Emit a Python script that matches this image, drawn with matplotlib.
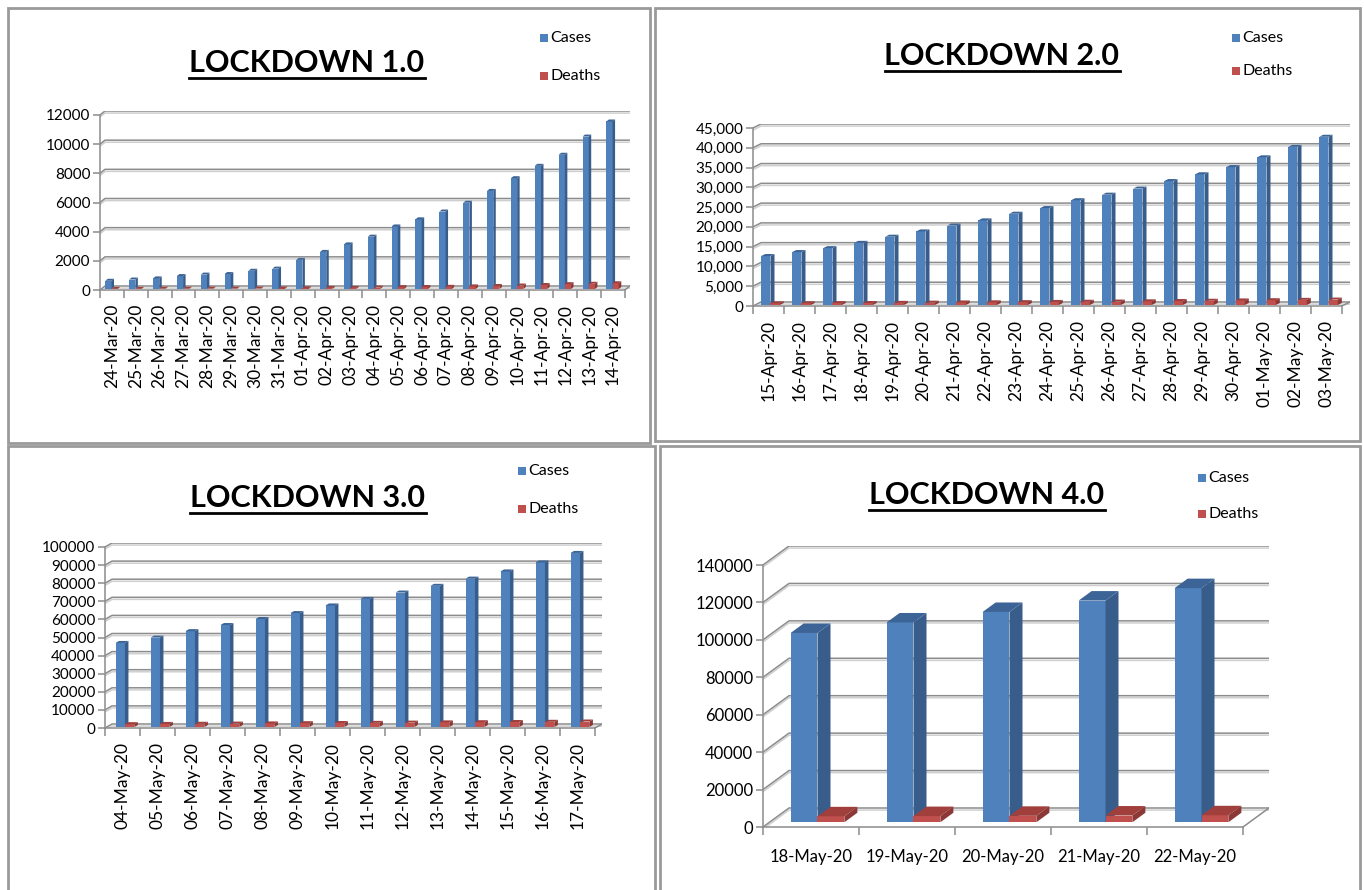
import matplotlib
matplotlib.use("Agg")
import matplotlib.pyplot as plt
from matplotlib.patches import Polygon, Rectangle
from matplotlib.lines import Line2D
from matplotlib.ticker import FuncFormatter
import matplotlib.patheffects as pe

plt.rcParams['font.family'] = ['Lato', 'DejaVu Sans']

W, H = 1364, 890

# ---- data ----
dates_1 = ["24-Mar-20", "25-Mar-20", "26-Mar-20", "27-Mar-20", "28-Mar-20", "29-Mar-20",
           "30-Mar-20", "31-Mar-20", "01-Apr-20", "02-Apr-20", "03-Apr-20", "04-Apr-20",
           "05-Apr-20", "06-Apr-20", "07-Apr-20", "08-Apr-20", "09-Apr-20", "10-Apr-20",
           "11-Apr-20", "12-Apr-20", "13-Apr-20", "14-Apr-20"]
cases_1 = [564, 650, 727, 887, 987, 1024, 1251, 1397, 1998, 2543, 3059, 3588,
           4289, 4778, 5311, 5916, 6725, 7598, 8446, 9205, 10453, 11487]
deaths_1 = [10, 12, 20, 20, 24, 27, 32, 35, 50, 72, 75, 99,
            124, 135, 149, 178, 206, 239, 273, 331, 358, 393]

dates_2 = ["15-Apr-20", "16-Apr-20", "17-Apr-20", "18-Apr-20", "19-Apr-20", "20-Apr-20",
           "21-Apr-20", "22-Apr-20", "23-Apr-20", "24-Apr-20", "25-Apr-20", "26-Apr-20",
           "27-Apr-20", "28-Apr-20", "29-Apr-20", "30-Apr-20", "01-May-20", "02-May-20",
           "03-May-20"]
cases_2 = [12380, 13387, 14378, 15712, 17265, 18601, 20080, 21393, 23077, 24506,
           26496, 27892, 29435, 31332, 33050, 34863, 37336, 39980, 42533]
deaths_2 = [414, 437, 480, 507, 543, 590, 645, 681, 718, 775,
            824, 872, 934, 1007, 1074, 1154, 1218, 1301, 1373]

dates_3 = ["04-May-20", "05-May-20", "06-May-20", "07-May-20", "08-May-20", "09-May-20",
           "10-May-20", "11-May-20", "12-May-20", "13-May-20", "14-May-20", "15-May-20",
           "16-May-20", "17-May-20"]
cases_3 = [46433, 49391, 52952, 56342, 59662, 62939, 67152, 70756, 74281, 78003,
           81970, 85940, 90927, 96169]
deaths_3 = [1568, 1694, 1783, 1886, 1981, 2109, 2206, 2293, 2415, 2549,
            2649, 2752, 2872, 3029]

dates_4 = ["18-May-20", "19-May-20", "20-May-20", "21-May-20", "22-May-20"]
cases_4 = [101139, 106750, 112359, 118447, 125101]
deaths_4 = [3163, 3303, 3435, 3583, 3720]

BLUE, BLUE_SIDE, BLUE_TOP = "#4F81BD", "#385D8A", "#3C6496"
RED, RED_SIDE, RED_TOP = "#C0504D", "#8C3836", "#A03F3C"
GRID = "#8C8C8C"

fig = plt.figure(figsize=(W / 100, H / 100), dpi=100)


def fx(x):
    return x / W


def fy(y):
    return 1 - y / H


def draw_bar(ax, xl, w, base, h, dx, dy, front, side, top):
    ax.bar(xl, h, width=w, bottom=base, align='edge', color=front, zorder=3, lw=0)
    xr = xl + w
    ax.add_patch(Polygon([(xr, base), (xr, base + h), (xr + dx, base + h + dy), (xr + dx, base + dy)],
                         closed=True, facecolor=side, lw=0, zorder=3))
    ax.add_patch(Polygon([(xl, base + h), (xr, base + h), (xr + dx, base + h + dy), (xl + dx, base + h + dy)],
                         closed=True, facecolor=top, lw=0, zorder=3))


def panel(box, title, title_c, leg_xy, geom, dates, cases, deaths, ymax, ystep, comma, rot,
          ysize, xsize):
    bx0, by0, bx1, by1 = box
    fig.add_artist(Rectangle((fx(bx0), fy(by1)), (bx1 - bx0) / W, (by1 - by0) / H,
                             transform=fig.transFigure, fill=False, edgecolor="#9A9A9A", lw=2))

    ax_l, cat, y0, ytop, bdx, bdy, off, bw = geom
    n = len(dates)
    pxv = (y0 - ytop) / ymax
    DX = bdx / cat
    DY = bdy / pxv
    right = ax_l + n * cat + bdx
    ax = fig.add_axes([fx(ax_l), fy(y0), (right - ax_l) / W, (y0 - ytop + bdy) / H])
    ax.set_xlim(-0.5, n - 0.5 + DX)
    ax.set_ylim(0, ymax + DY)
    ax.patch.set_visible(False)

    # back wall gridlines + side wall diagonals
    ticks = list(range(0, ymax + 1, ystep))
    shadow = [pe.SimpleLineShadow(offset=(0, -1.5), shadow_color="#b0b0b0", alpha=0.6), pe.Normal()]
    for v in ticks:
        ax.plot([-0.5, -0.5 + DX, n - 0.5 + DX], [v, v + DY, v + DY], color=GRID, lw=1.1,
                zorder=1, path_effects=shadow, solid_capstyle='butt')
    ax.plot([n - 0.5, n - 0.5 + DX], [0, DY], color=GRID, lw=1.1, zorder=1)

    # bars
    f0, f1 = 0.25, 0.75
    for i in range(n):
        xl = i - 0.5 + off + f0 * DX
        draw_bar(ax, xl, bw, f0 * DY, cases[i], (f1 - f0) * DX, (f1 - f0) * DY,
                 BLUE, BLUE_SIDE, BLUE_TOP)
        draw_bar(ax, xl + bw, bw, f0 * DY, deaths[i], (f1 - f0) * DX, (f1 - f0) * DY,
                 RED, RED_SIDE, RED_TOP)

    # axes
    for s in ["top", "right"]:
        ax.spines[s].set_visible(False)
    ax.spines["left"].set_bounds(0, ymax)
    ax.spines["bottom"].set_bounds(-0.5, n - 0.5)
    for s in ["left", "bottom"]:
        ax.spines[s].set_color(GRID)
        ax.spines[s].set_linewidth(1.1)
    ax.set_yticks(ticks)
    if comma:
        ax.yaxis.set_major_formatter(FuncFormatter(lambda v, p: f"{int(v):,}"))
    else:
        ax.yaxis.set_major_formatter(FuncFormatter(lambda v, p: f"{int(v)}"))
    ax.tick_params(axis='y', length=5, width=1.1, color=GRID, labelsize=ysize, pad=2)
    ax.set_xticks(range(n))
    ax.set_xticklabels(dates, rotation=rot)
    ax.set_xticks([i - 0.5 for i in range(n + 1)], minor=True)
    ax.tick_params(axis='x', which='major', length=0, labelsize=xsize, pad=10 if rot else 16)
    ax.tick_params(axis='x', which='minor', length=6, width=1.1, color=GRID)

    # title
    t = fig.text(fx(title_c[0]), fy(title_c[1]), title, ha='center', va='center',
                 fontsize=22, fontweight='bold')
    # legend
    lx, ly1, ly2 = leg_xy
    for yy, col, lab in [(ly1, BLUE, "Cases"), (ly2, RED, "Deaths")]:
        fig.add_artist(Rectangle((fx(lx - 4), fy(yy + 4)), 8 / W, 8 / H, transform=fig.transFigure,
                                 facecolor=col, edgecolor='none'))
        fig.text(fx(lx + 6), fy(yy), lab, ha='left', va='center', fontsize=11.5)
    return t


titles = []
titles.append(panel((8, 8, 650, 443), "LOCKDOWN 1.0", (307, 63), (544, 38, 76),
                    (100, 23.86, 290, 115, 5, 4, 0.17, 0.26), dates_1, cases_1, deaths_1,
                    12000, 2000, False, 90, 11, 12.5))
titles.append(panel((655, 8, 1360, 441), "LOCKDOWN 2.0", (1002, 56), (1236, 38, 71),
                    (753, 31.0, 306, 128, 8, 4, 0.2, 0.3), dates_2, cases_2, deaths_2,
                    45000, 5000, True, 90, 11, 12.5))
titles.append(panel((8, 446, 655, 892), "LOCKDOWN 3.0", (308, 498), (522, 471, 509),
                    (105, 35.0, 728, 547, 7, 4, 0.25, 0.27), dates_3, cases_3, deaths_3,
                    100000, 10000, False, 90, 11, 12.5))
titles.append(panel((660, 446, 1360, 892), "LOCKDOWN 4.0", (987, 495), (1202, 478, 514),
                    (763, 96.0, 827, 565, 26, 19, 0.22, 0.28), dates_4, cases_4, deaths_4,
                    140000, 20000, False, 0, 12, 12))

# underline the titles
fig.canvas.draw()
for t in titles:
    bb = t.get_window_extent()
    yline = (bb.y0 - 1) / H
    fig.add_artist(Line2D([bb.x0 / W, bb.x1 / W], [yline, yline], transform=fig.transFigure,
                          color='black', lw=2))

fig.savefig("out.png", dpi=100)
